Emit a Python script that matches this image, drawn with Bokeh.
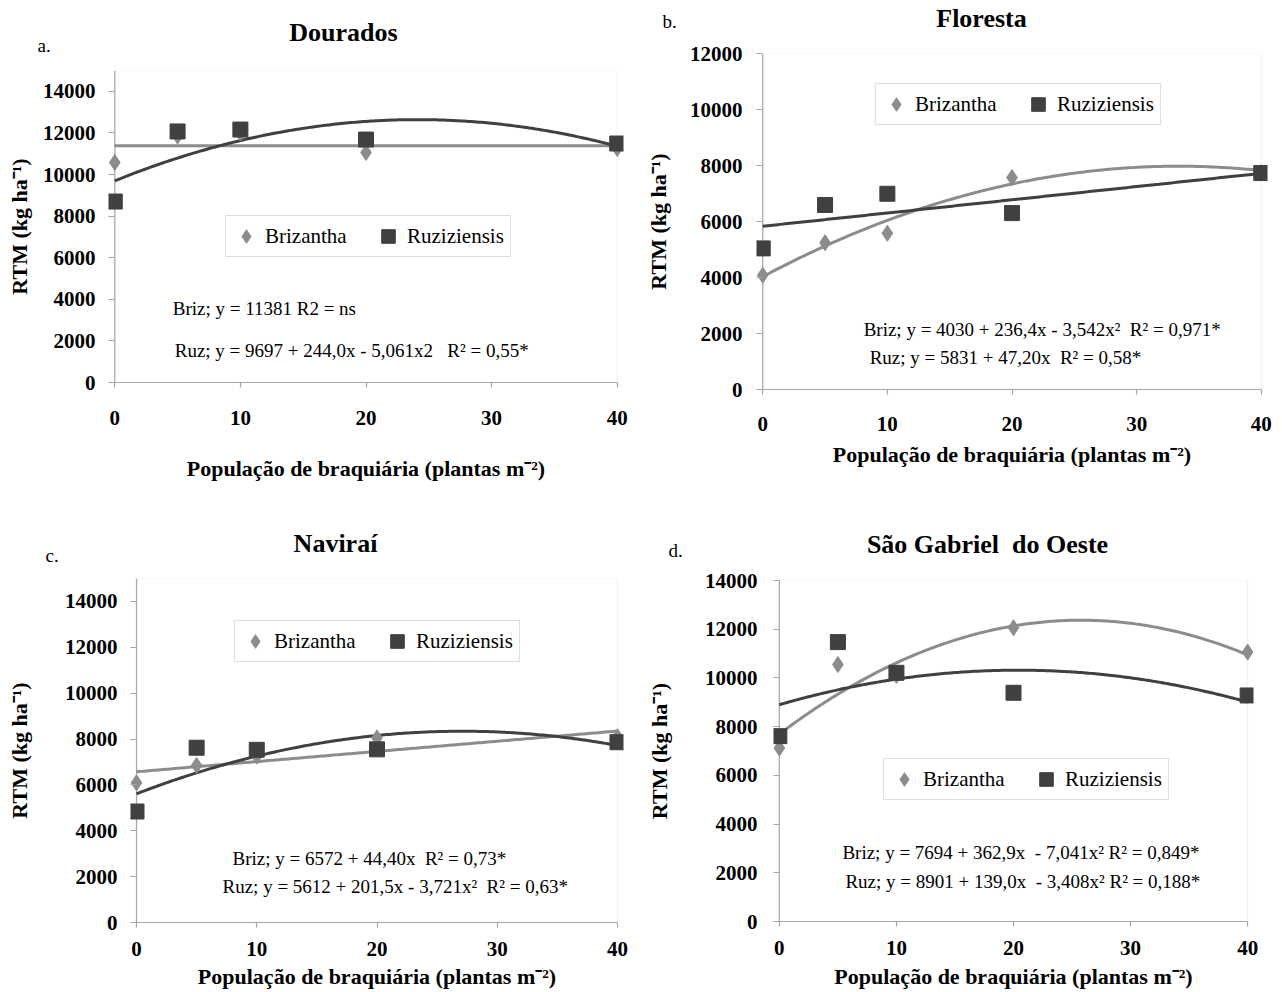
import numpy as np
from bokeh.plotting import figure
from bokeh.layouts import column, row
from bokeh.models import (Range1d, FixedTicker, Legend, LegendItem, Label,
                          BoxAnnotation, Span)
from bokeh.embed import file_html
from bokeh.resources import INLINE

# ---------------- data ----------------
x_pop = [0, 5, 10, 20, 40]
x_ticks = [0, 10, 20, 30, 40]

# a. Dourados
dou_briz = [10580, 11850, 12000, 11060, 11250]
dou_ruz = [8700, 12070, 12160, 11680, 11490]
dou_briz_fit = [11381, 0.0, 0.0]
dou_ruz_fit = [9697, 244.0, -5.061]

# b. Floresta
flo_briz = [4080, 5240, 5580, 7570, 7750]
flo_ruz = [5040, 6590, 6990, 6300, 7730]
flo_briz_fit = [4030, 236.4, -3.542]
flo_ruz_fit = [5831, 47.20, 0.0]

# c. Naviraí
nav_briz = [6090, 6850, 7250, 8050, 8100]
nav_ruz = [4840, 7620, 7530, 7550, 7860]
nav_briz_fit = [6572, 44.40, 0.0]
nav_ruz_fit = [5612, 201.5, -3.721]

# d. São Gabriel do Oeste
sgo_briz = [7120, 10550, 10100, 12060, 11060]
sgo_ruz = [7610, 11470, 10210, 9390, 9280]
sgo_briz_fit = [7694, 362.9, -7.041]
sgo_ruz_fit = [8901, 139.0, -3.408]

series_names = ["Brizantha", "Ruziziensis"]
x_label = "População de braquiária (plantas m⁻²)"
y_label = "RTM (kg ha⁻¹)"

# ---------------- style ----------------
FONT = "Liberation Serif"
C_BRIZ = "#8c8c8c"
C_RUZ = "#404040"
AX_COL = "#a6a6a6"
FRAME_COL = "#d0d0d0"
PADX = 0.5
H = 496
NB = "\u00a0"

panels = [
    dict(w=640, title="Dourados", letter="a.", briz=dou_briz, ruz=dou_ruz,
         bfit=dou_briz_fit, rfit=dou_ruz_fit, ymax=15000, ytick_max=14000,
         x0=114, x40=617, y0=382, ytop=70, topb=4,
         title_pos=(343, 32), letter_pos=(37, 45),
         eq=[("Briz; y = 11381 R2 = ns", 172, 308),
             ("Ruz; y = 9697 + 244,0x - 5,061x2" + NB * 3 + "R² = 0,55*", 174, 350)],
         leg=(225, 257), xl_std=(23, 28), yl_std=(19, 8)),
    dict(w=642, title="Floresta", letter="b.", briz=flo_briz, ruz=flo_ruz,
         bfit=flo_briz_fit, rfit=flo_ruz_fit, ymax=12000, ytick_max=12000,
         x0=122, x40=621, y0=389, ytop=53, topb=14,
         title_pos=(341, 18), letter_pos=(22, 21),
         eq=[("Briz; y = 4030 + 236,4x - 3,542x²" + NB * 2 + "R² = 0,971*", 223, 329),
             ("Ruz; y = 5831 + 47,20x" + NB * 2 + "R² = 0,58*", 229, 357)],
         leg=(235, 125), xl_std=(22, 8), yl_std=(20, 16)),
    dict(w=640, title="Naviraí", letter="c.", briz=nav_briz, ruz=nav_ruz,
         bfit=nav_briz_fit, rfit=nav_ruz_fit, ymax=15000, ytick_max=14000,
         x0=136, x40=617, y0=426, ytop=82, topb=4,
         title_pos=(335, 47), letter_pos=(45, 59),
         eq=[("Briz; y = 6572 + 44,40x" + NB * 2 + "R² = 0,73*", 232, 362),
             ("Ruz; y = 5612 + 201,5x - 3,721x²" + NB * 2 + "R² = 0,63*", 222, 390)],
         leg=(234, 166), xl_std=(14, 5), yl_std=(19, 30)),
    dict(w=642, title="São Gabriel" + NB * 2 + "do Oeste", letter="d.", briz=sgo_briz, ruz=sgo_ruz,
         bfit=sgo_briz_fit, rfit=sgo_ruz_fit, ymax=14000, ytick_max=14000,
         x0=139, x40=607, y0=425, ytop=84, topb=14,
         title_pos=(347, 48), letter_pos=(28, 54),
         eq=[("Briz; y = 7694 + 362,9x" + NB * 2 + "- 7,041x² R² = 0,849*", 202, 356),
             ("Ruz; y = 8901 + 139,0x" + NB * 2 + "- 3,408x² R² = 0,188*", 205, 385)],
         leg=(243, 304), xl_std=(14, 6), yl_std=(22, 30)),
]


def make_header(c, hdr_h):
    h = figure(width=c["w"], height=hdr_h, x_range=Range1d(0, c["w"]),
               y_range=Range1d(hdr_h, 0), output_backend="svg",
               toolbar_location=None, title=None, frame_align=False,
               x_axis_type=None, y_axis_type=None,
               min_border_left=0, min_border_right=0,
               min_border_top=0, min_border_bottom=0)
    h.xgrid.visible = False
    h.ygrid.visible = False
    h.outline_line_color = None
    tx, ty = c["title_pos"]
    h.add_layout(Label(x=tx, y=ty, text=c["title"], text_align="center",
                       text_baseline="middle", text_font=FONT,
                       text_font_style="bold", text_font_size="26px",
                       text_color="black"))
    lx, ly = c["letter_pos"]
    h.add_layout(Label(x=lx, y=ly, text=c["letter"], text_align="left",
                       text_baseline="middle", text_font=FONT,
                       text_font_size="19px", text_color="black"))
    return h


def make_panel(c):
    hdr_h = c["ytop"] - c["topb"]
    sx = (c["x40"] - c["x0"]) / 40.0
    pad_px = PADX * sx
    frame_left = c["x0"] - pad_px
    frame_right = c["x40"] + pad_px
    p = figure(width=c["w"], height=H - hdr_h,
               x_range=Range1d(-PADX, 40 + PADX), y_range=Range1d(0, c["ymax"]),
               output_backend="svg", toolbar_location=None, title=None,
               frame_align=False,
               min_border_left=int(round(frame_left)),
               min_border_right=int(round(c["w"] - frame_right)),
               min_border_top=c["topb"], min_border_bottom=H - c["y0"])
    p.xgrid.visible = False
    p.ygrid.visible = False
    p.outline_line_color = None
    p.background_fill_color = "white"
    p.border_fill_color = "white"

    def px2data(px, py):
        return ((px - c["x0"]) / sx,
                (c["y0"] - py) / (c["y0"] - c["ytop"]) * c["ymax"])

    # plot-area frame and the vertical axis line at x = 0
    p.add_layout(BoxAnnotation(left=0, right=40, bottom=0, top=c["ymax"],
                               fill_alpha=0, line_color=FRAME_COL, line_width=1.2,
                               level="underlay"))
    p.add_layout(Span(location=0, dimension="height", line_color=AX_COL,
                      line_width=1.2, level="underlay"))

    yticks = list(range(0, c["ytick_max"] + 1, 2000))
    xa = p.xaxis[0]
    xa.ticker = FixedTicker(ticks=x_ticks)
    xa.bounds = (0, 40)
    ya = p.yaxis[0]
    ya.ticker = FixedTicker(ticks=yticks)

    for ax in (xa, ya):
        ax.axis_line_color = AX_COL
        ax.axis_line_width = 1.2
        ax.major_tick_line_color = AX_COL
        ax.major_tick_line_width = 1.2
        ax.major_tick_out = 5
        ax.major_tick_in = 0
        ax.minor_tick_line_color = None
        ax.major_label_text_font = FONT
        ax.major_label_text_font_style = "bold"
        ax.major_label_text_font_size = "21px"
        ax.major_label_text_color = "black"
        ax.axis_label_text_font = FONT
        ax.axis_label_text_font_style = "bold"
        ax.axis_label_text_font_size = "22px"
        ax.axis_label_text_color = "black"
    # y ticks reach from the frame edge to the axis line at x = 0
    ya.axis_line_color = None
    ya.major_tick_out = 0
    ya.major_tick_in = int(round(pad_px))
    xa.axis_label = x_label
    ya.axis_label = y_label
    xa.major_label_standoff, xa.axis_label_standoff = c["xl_std"]
    gap, ya.axis_label_standoff = c["yl_std"]
    ya.major_label_standoff = int(round(gap - pad_px))
    ya.major_label_orientation = "horizontal"

    # trend lines
    xs = np.linspace(0, 40, 201)
    b0, b1, b2 = c["bfit"]
    r0, r1, r2 = c["rfit"]
    p.line(xs, b0 + b1 * xs + b2 * xs ** 2, line_color=C_BRIZ, line_width=3)
    p.line(xs, r0 + r1 * xs + r2 * xs ** 2, line_color=C_RUZ, line_width=3)

    # observed points
    rb = p.scatter(x_pop, c["briz"], marker="diamond", size=16,
                   fill_color=C_BRIZ, line_color=C_BRIZ)
    rr = p.scatter(x_pop, c["ruz"], marker="square", size=15,
                   fill_color=C_RUZ, line_color=C_RUZ)

    leg_left, leg_bottom = c["leg"]
    legend = Legend(items=[LegendItem(label=series_names[0], renderers=[rb]),
                           LegendItem(label=series_names[1], renderers=[rr])],
                    location=(int(round(leg_left - frame_left)), int(c["y0"] - leg_bottom)),
                    orientation="horizontal", glyph_width=34, glyph_height=34,
                    label_standoff=2, spacing=6, padding=3, margin=0,
                    label_width=100,
                    border_line_color="#bfbfbf", border_line_width=1.2,
                    background_fill_color="white", background_fill_alpha=1.0,
                    label_text_font=FONT, label_text_font_size="21px",
                    label_text_color="black")
    p.add_layout(legend)

    for txt, ex, ey in c["eq"]:
        qx, qy = px2data(ex, ey)
        p.add_layout(Label(x=qx, y=qy, text=txt, text_align="left",
                           text_baseline="middle", text_font=FONT,
                           text_font_size="19px", text_color="black"))
    return column(make_header(c, hdr_h), p)


cols = [make_panel(c) for c in panels]
layout = column(row(cols[0], cols[1]), row(cols[2], cols[3]))
open("out.html", "w").write(file_html(layout, INLINE))
